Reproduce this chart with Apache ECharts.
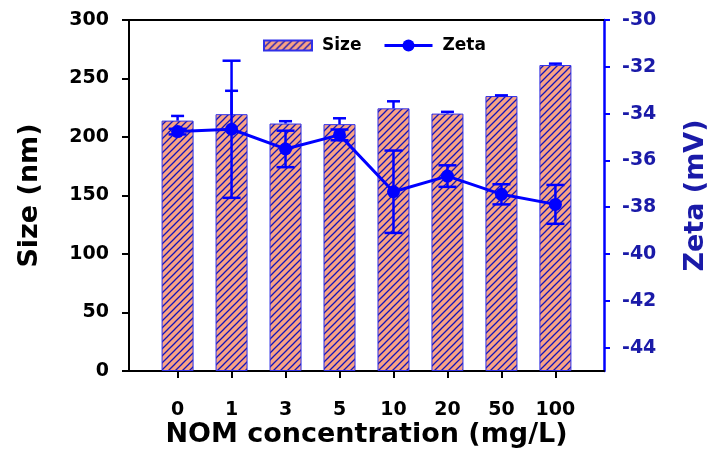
<!DOCTYPE html>
<html>
<head>
<meta charset="utf-8">
<script src="https://cdn.jsdelivr.net/npm/echarts@6/dist/echarts.min.js"></script>
<style>
html,body{margin:0;padding:0;background:#fff;}
#c{width:718px;height:470px;}
</style>
</head>
<body>
<div id="c"></div>
<script>
// ---- data ----
var categories = ['0', '1', '3', '5', '10', '20', '50', '100'];
var sizeValues = [214, 219.5, 211.5, 211, 224.5, 220, 235, 261.5];
var sizeErr = [4, 20, 2, 5, 6, 1.5, 0.6, 1.2];
var zetaValues = [-34.77, -34.67, -35.51, -34.91, -37.34, -36.67, -37.45, -37.88];
var zetaErr = [0.12, 2.93, 0.78, 0.23, 1.76, 0.46, 0.43, 0.83];
var sizeTicks = [0, 50, 100, 150, 200, 250, 300];
var zetaTicks = [-44, -42, -40, -38, -36, -34, -32, -30];

// ---- hatch pattern ----
function makeHatch() {
  var s = 7;
  var cv = document.createElement('canvas');
  cv.width = s; cv.height = s;
  var ctx = cv.getContext('2d');
  ctx.fillStyle = '#F9A384';
  ctx.fillRect(0, 0, s, s);
  ctx.strokeStyle = '#1414B8';
  ctx.lineWidth = 1.3;
  ctx.beginPath();
  ctx.moveTo(-1, s + 1); ctx.lineTo(s + 1, -1);
  ctx.moveTo(-1, 1); ctx.lineTo(1, -1);
  ctx.moveTo(s - 1, s + 1); ctx.lineTo(s + 1, s - 1);
  ctx.stroke();
  return cv;
}
var hatch = makeHatch();

var idx = categories.map(function (_, i) { return i; });
var barData = sizeValues.map(function (v, i) { return [i, v]; });
var sizeErrData = sizeValues.map(function (v, i) { return [i, v, sizeErr[i]]; });
var zetaData = zetaValues.map(function (v, i) { return [i, v]; });
var zetaErrData = zetaValues.map(function (v, i) { return [i, v, zetaErr[i]]; });

var FONT = 'DejaVu Sans';
var BLUE = '#0000FF';
var DARKBLUE = '#1A1AA8';

function errRender(cap, upperOnly) {
  return function (params, api) {
    var x = api.value(0), v = api.value(1), e = api.value(2);
    var p = api.coord([x, v]);
    var hi = api.coord([x, v + e]);
    var lo = upperOnly ? p : api.coord([x, v - e]);
    var st = { stroke: BLUE, lineWidth: 2.5 };
    var ch = [
      { type: 'line', shape: { x1: p[0], y1: lo[1], x2: p[0], y2: hi[1] }, style: st },
      { type: 'line', shape: { x1: p[0] - cap, y1: hi[1], x2: p[0] + cap, y2: hi[1] }, style: st }
    ];
    if (!upperOnly) {
      ch.push({ type: 'line', shape: { x1: p[0] - cap, y1: lo[1], x2: p[0] + cap, y2: lo[1] }, style: st });
    }
    return { type: 'group', children: ch };
  };
}

var legendText = { fontFamily: FONT, fontWeight: 'bold', fontSize: 17, color: '#000', padding: [0, 0, 0, 5] };

var chart = echarts.init(document.getElementById('c'), null, { renderer: 'canvas' });
chart.setOption({
  animation: false,
  backgroundColor: '#fff',
  textStyle: { fontFamily: FONT },
  grid: { left: 129, right: 114, top: 20, bottom: 99, containLabel: false },
  legend: [{
    data: [{ name: 'Size', icon: 'rect' }],
    left: 258, top: 32,
    itemWidth: 48, itemHeight: 10,
    textStyle: legendText
  }, {
    data: ['Zeta'],
    left: 378, top: 32,
    itemWidth: 48, itemHeight: 15,
    lineStyle: { width: 3 },
    textStyle: legendText
  }],
  xAxis: [{
    type: 'value', min: -0.9, max: 7.9, position: 'bottom',
    splitLine: { show: false },
    axisLine: { show: true, onZero: false, lineStyle: { color: '#000', width: 2 } },
    axisTick: { show: true, inside: false, length: 7, customValues: idx, lineStyle: { color: '#000', width: 2 } },
    axisLabel: {
      customValues: idx, margin: 30,
      formatter: function (v) { return categories[Math.round(v)]; },
      fontFamily: FONT, fontWeight: 'bold', fontSize: 19, color: '#000'
    },
    name: 'NOM concentration (mg/L)', nameLocation: 'middle', nameGap: 50, nameMoveOverlap: false,
    nameTextStyle: { fontFamily: FONT, fontWeight: 'bold', fontSize: 27, color: '#000' }
  }, {
    type: 'value', min: -0.9, max: 7.9, position: 'top',
    splitLine: { show: false },
    axisLine: { show: true, onZero: false, lineStyle: { color: '#000', width: 2 } },
    axisTick: { show: false }, axisLabel: { show: false }
  }],
  yAxis: [{
    type: 'value', min: 0, max: 300, interval: 50, position: 'left',
    splitLine: { show: false },
    axisLine: { show: true, onZero: false, lineStyle: { color: '#000', width: 2 } },
    axisTick: { show: true, inside: false, length: 7, lineStyle: { color: '#000', width: 2 } },
    axisLabel: {
      margin: 20, formatter: function (v) { return sizeTicks.indexOf(v) >= 0 ? String(v) : ''; },
      fontFamily: FONT, fontWeight: 'bold', fontSize: 19, color: '#000'
    },
    name: 'Size (nm)', nameLocation: 'middle', nameGap: 86, nameMoveOverlap: false,
    nameTextStyle: { fontFamily: FONT, fontWeight: 'bold', fontSize: 27, color: '#000' }
  }, {
    type: 'value', min: -45, max: -30, position: 'right',
    splitLine: { show: false },
    axisLine: { show: true, onZero: false, lineStyle: { color: BLUE, width: 2.5 } },
    axisTick: { show: true, inside: false, length: 6, customValues: zetaTicks, lineStyle: { color: BLUE, width: 2 } },
    axisLabel: {
      customValues: zetaTicks, margin: 18,
      fontFamily: FONT, fontWeight: 'bold', fontSize: 19, color: DARKBLUE
    },
    name: 'Zeta (mV)', nameLocation: 'middle', nameGap: 78, nameRotate: 90, nameMoveOverlap: false,
    nameTextStyle: { fontFamily: FONT, fontWeight: 'bold', fontSize: 27, color: DARKBLUE }
  }],
  series: [{
    name: 'Size', type: 'bar', xAxisIndex: 0, yAxisIndex: 0,
    barWidth: 32, data: barData, z: 2,
    itemStyle: { color: { image: hatch, repeat: 'repeat' }, borderColor: '#3030E8', borderWidth: 1 }
  }, {
    name: 'sizeErr', type: 'custom', xAxisIndex: 0, yAxisIndex: 0,
    renderItem: errRender(6.5, true), data: sizeErrData, z: 3
  }, {
    name: 'zetaErr', type: 'custom', xAxisIndex: 0, yAxisIndex: 1,
    renderItem: errRender(9, false), data: zetaErrData, z: 4
  }, {
    name: 'Zeta', type: 'line', xAxisIndex: 0, yAxisIndex: 1,
    data: zetaData, z: 5,
    symbol: 'circle', symbolSize: 13,
    lineStyle: { color: BLUE, width: 3 },
    itemStyle: { color: BLUE }
  }]
});
</script>
</body>
</html>
